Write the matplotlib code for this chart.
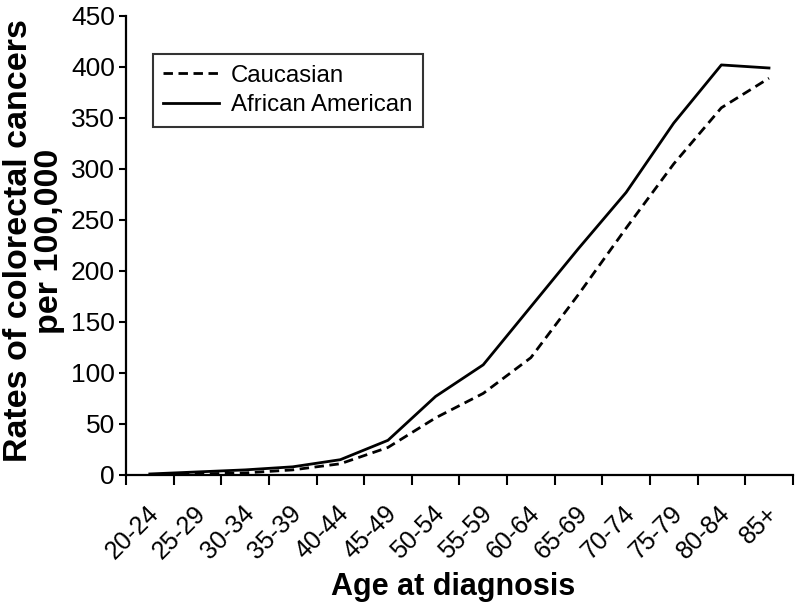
import matplotlib
matplotlib.use("Agg")
import matplotlib.pyplot as plt
from matplotlib import transforms
import numpy as np

plt.rcParams['font.family'] = ['Liberation Sans', 'DejaVu Sans']

age_groups = ["20-24", "25-29", "30-34", "35-39", "40-44", "45-49", "50-54",
              "55-59", "60-64", "65-69", "70-74", "75-79", "80-84", "85+"]
caucasian = [0.5, 1, 2, 5, 11, 27, 56, 80, 115, 177, 242, 305, 360, 389]
african_american = [1, 3, 5, 8, 15, 34, 77, 108, 165, 222, 277, 345, 402, 399]

fig = plt.figure(figsize=(8, 6.05), dpi=100)
ax = fig.add_axes([0.1575, 0.2149, 0.8335, 0.7587])

x = np.arange(len(age_groups))
ax.plot(x, caucasian, color="black", lw=2.0, ls=(0, (3.4, 2.0)), label="Caucasian")
ax.plot(x, african_american, color="black", lw=2.0, label="African American")

ax.set_xlim(-0.5, len(age_groups) - 0.5)
ax.set_ylim(0, 450)
ax.set_yticks(np.arange(0, 451, 50))

# tick marks on group boundaries, labels at group centres
ax.set_xticks(x)
ax.set_xticklabels(age_groups, rotation=45, ha="right", va="center",
                   rotation_mode="anchor", fontsize=18)
ax.set_xticks(np.arange(-0.5, len(age_groups)), minor=True)
ax.tick_params(axis="x", which="major", length=0, pad=25)
ax.tick_params(axis="x", which="minor", length=7, width=1.5, direction="out")
ax.tick_params(axis="y", length=5, width=1.5, labelsize=19, pad=3)
shift = transforms.ScaledTranslation(5 / 100, 0, fig.dpi_scale_trans)
for lab in ax.get_xticklabels():
    lab.set_transform(lab.get_transform() + shift)

for s in ["top", "right"]:
    ax.spines[s].set_visible(False)
for s in ["left", "bottom"]:
    ax.spines[s].set_linewidth(1.6)

ax.set_ylabel("Rates of colorectal cancers\nper 100,000", fontsize=24.5,
              fontweight="bold", linespacing=1.0)
ax.yaxis.set_label_coords(-0.092, 0.51)
ax.set_xlabel("Age at diagnosis", fontsize=22, fontweight="bold")
ax.xaxis.set_label_coords(0.49, -0.212)

leg = ax.legend(loc="upper left", bbox_to_anchor=(0.04, 0.917), borderaxespad=0,
                fontsize=17.3, frameon=True, fancybox=False, handlelength=2.3,
                handletextpad=0.5, borderpad=0.45, labelspacing=0.3)
leg.get_frame().set_edgecolor("black")
leg.get_frame().set_linewidth(1.5)

fig.savefig("out.png", dpi=100)
